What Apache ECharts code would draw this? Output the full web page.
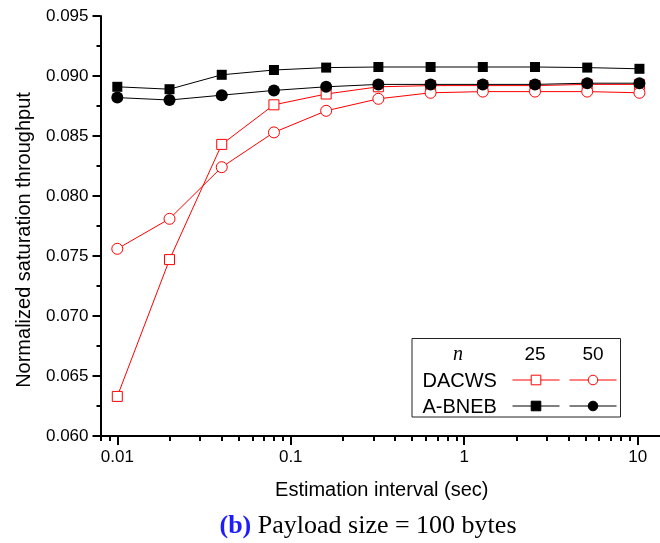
<!DOCTYPE html>
<html>
<head>
<meta charset="utf-8">
<title>Normalized saturation throughput vs. estimation interval</title>
<script src="https://cdn.jsdelivr.net/npm/echarts@6/dist/echarts.min.js"></script>
<style>
  html, body { margin: 0; padding: 0; background: #fff; }
  #chart { width: 660px; height: 543px; }
</style>
</head>
<body>
<div id="chart"></div>
<script>
// Estimation interval (sec), doubling from 10 ms
const intervals = [0.01, 0.02, 0.04, 0.08, 0.16, 0.32, 0.64, 1.28, 2.56, 5.12, 10.24];

// Normalized saturation throughput, payload = 100 bytes
const dacws25 = [0.0633, 0.0747, 0.0843, 0.0876, 0.0885, 0.0891, 0.0892, 0.0892, 0.0892, 0.0893, 0.0893];
const dacws50 = [0.0756, 0.0781, 0.0824, 0.0853, 0.0871, 0.0881, 0.0886, 0.0887, 0.0887, 0.0887, 0.0886];
const abneb25 = [0.0891, 0.0889, 0.0901, 0.0905, 0.0907, 0.09075, 0.09075, 0.09075, 0.09075, 0.0907, 0.0906];
const abneb50 = [0.0882, 0.0880, 0.0884, 0.0888, 0.0891, 0.0893, 0.0893, 0.0893, 0.0893, 0.0894, 0.0894];

// Axis ranges and tick labels
const xMin = 0.008;
const xMax = 14;
const xTickValues = [0.01, 0.1, 1, 10];
const xTickLabels = ['0.01', '0.1', '1', '10'];
const xMinorValues = [0.008, 0.009,
  0.02, 0.03, 0.04, 0.05, 0.06, 0.07, 0.08, 0.09,
  0.2, 0.3, 0.4, 0.5, 0.6, 0.7, 0.8, 0.9,
  2, 3, 4, 5, 6, 7, 8, 9];
const yMin = 0.060;
const yMax = 0.095;
const yStep = 0.005;

const SANS = '"Liberation Sans", Arial, Helvetica, sans-serif';
const SERIF = '"Liberation Serif", "Times New Roman", serif';

const pairs = xs => ys => xs.map((x, i) => [x, ys[i]]);
const onIntervals = pairs(intervals);
const lg = Math.log10;

function lineSeries(name, values, color, symbol, size, hollow) {
  return {
    name: name,
    type: 'line',
    xAxisIndex: 0,
    yAxisIndex: 0,
    data: onIntervals(values),
    symbol: symbol,
    symbolSize: size,
    showSymbol: true,
    lineStyle: { color: color, width: 1 },
    itemStyle: hollow
      ? { color: '#fff', borderColor: color, borderWidth: 1 }
      : { color: color, borderColor: color, borderWidth: 0 },
    emphasis: { disabled: true },
    animation: false
  };
}

const series = [
  lineSeries('DACWS n=25', dacws25, '#ff0000', 'rect', 10, true),
  lineSeries('DACWS n=50', dacws50, '#ff0000', 'circle', 11, true),
  lineSeries('A-BNEB n=25', abneb25, '#000000', 'rect', 10, false),
  lineSeries('A-BNEB n=50', abneb50, '#000000', 'circle', 12, false)
];

// One-item legend per cell of the n = 25 / n = 50 table
function legendCell(name, left, top) {
  return {
    data: [name],
    left: left,
    top: top,
    padding: 0,
    itemWidth: 47,
    itemHeight: 12,
    selectedMode: false,
    formatter: () => '',
    itemStyle: { borderWidth: 1 },
    lineStyle: { width: 1 },
    textStyle: { fontSize: 1 }
  };
}

const legends = [
  legendCell('DACWS n=25', 512, 374),
  legendCell('DACWS n=50', 569, 374),
  legendCell('A-BNEB n=25', 512, 400),
  legendCell('A-BNEB n=50', 569, 400)
];

const labelText = { color: '#000', fontFamily: SANS };

const option = {
  backgroundColor: '#fff',
  animation: false,
  grid: {
    left: 100.5, top: 16, right: -3, bottom: 107,
    containLabel: false,
    outerBoundsMode: 'none'
  },
  xAxis: [
    {
      // data axis: logarithmic estimation interval
      type: 'log',
      logBase: 10,
      min: xMin,
      max: xMax,
      position: 'bottom',
      name: 'Estimation interval (sec)',
      nameLocation: 'middle',
      nameGap: 44,
      nameMoveOverlap: false,
      nameTextStyle: { color: '#000', fontFamily: SANS, fontSize: 20 },
      axisLine: { show: true, onZero: false, lineStyle: { color: '#000', width: 2 } },
      axisTick: { show: false },
      minorTick: { show: false },
      axisLabel: { show: false },
      splitLine: { show: false },
      minorSplitLine: { show: false }
    },
    {
      // decade ticks and labels, laid out in log10 space
      type: 'value',
      min: lg(xMin),
      max: lg(xMax),
      position: 'bottom',
      axisLine: { show: false, onZero: false },
      axisTick: {
        show: true, length: 9,
        customValues: xTickValues.map(lg),
        lineStyle: { color: '#000', width: 2 }
      },
      axisLabel: {
        show: true, margin: 13, fontSize: 17, ...labelText,
        customValues: xTickValues.map(lg),
        formatter: v => {
          const i = xTickValues.findIndex(t => Math.abs(lg(t) - v) < 1e-6);
          return i >= 0 ? xTickLabels[i] : '';
        }
      },
      splitLine: { show: false }
    },
    {
      // intermediate ticks 2..9 of each decade
      type: 'value',
      min: lg(xMin),
      max: lg(xMax),
      position: 'bottom',
      axisLine: { show: false, onZero: false },
      axisTick: {
        show: true, length: 5,
        customValues: xMinorValues.map(lg),
        lineStyle: { color: '#000', width: 2 }
      },
      axisLabel: { show: false },
      splitLine: { show: false }
    }
  ],
  yAxis: {
    type: 'value',
    min: yMin,
    max: yMax,
    interval: yStep,
    name: 'Normalized saturation throughput',
    nameLocation: 'middle',
    nameGap: 66,
    nameRotate: 90,
    nameMoveOverlap: false,
    nameTextStyle: { color: '#000', fontFamily: SANS, fontSize: 20, padding: [0, 28, 0, 0] },
    axisLine: { show: true, onZero: false, lineStyle: { color: '#000', width: 2 } },
    axisTick: { show: true, length: 8, lineStyle: { color: '#000', width: 2 } },
    minorTick: { show: true, splitNumber: 2, length: 4, lineStyle: { color: '#000', width: 2 } },
    axisLabel: { margin: 12, fontSize: 17, ...labelText, formatter: v => v.toFixed(3) },
    splitLine: { show: false }
  },
  legend: legends,
  series: series,
  graphic: [
    {
      type: 'rect',
      shape: { x: 412, y: 338.5, width: 208.5, height: 78.5 },
      style: { fill: 'none', stroke: '#222', lineWidth: 1 },
      z: 50
    },
    {
      type: 'text', x: 458, y: 355, z: 50,
      style: { text: 'n', font: 'italic 20px ' + SERIF, fill: '#000', align: 'center', verticalAlign: 'middle' }
    },
    {
      type: 'text', x: 535, y: 355, z: 50,
      style: { text: '25', font: '19px ' + SANS, fill: '#000', align: 'center', verticalAlign: 'middle' }
    },
    {
      type: 'text', x: 593, y: 355, z: 50,
      style: { text: '50', font: '19px ' + SANS, fill: '#000', align: 'center', verticalAlign: 'middle' }
    },
    {
      type: 'text', x: 422.5, y: 381, z: 50,
      style: { text: 'DACWS', font: '20px ' + SANS, fill: '#000', align: 'left', verticalAlign: 'middle' }
    },
    {
      type: 'text', x: 422.5, y: 407, z: 50,
      style: { text: 'A-BNEB', font: '20px ' + SANS, fill: '#000', align: 'left', verticalAlign: 'middle' }
    },
    {
      type: 'text', x: 368, y: 526, z: 50,
      style: {
        text: '{b|(b)} Payload size = 100 bytes',
        font: '26px ' + SERIF,
        fill: '#000',
        align: 'center',
        verticalAlign: 'middle',
        rich: {
          b: { fontFamily: SERIF, fontSize: 26, fontWeight: 'bold', fill: '#1c1cff', color: '#1c1cff' }
        }
      }
    }
  ]
};

const chart = echarts.init(document.getElementById('chart'), null, { renderer: 'canvas' });
chart.setOption(option);
</script>
</body>
</html>
